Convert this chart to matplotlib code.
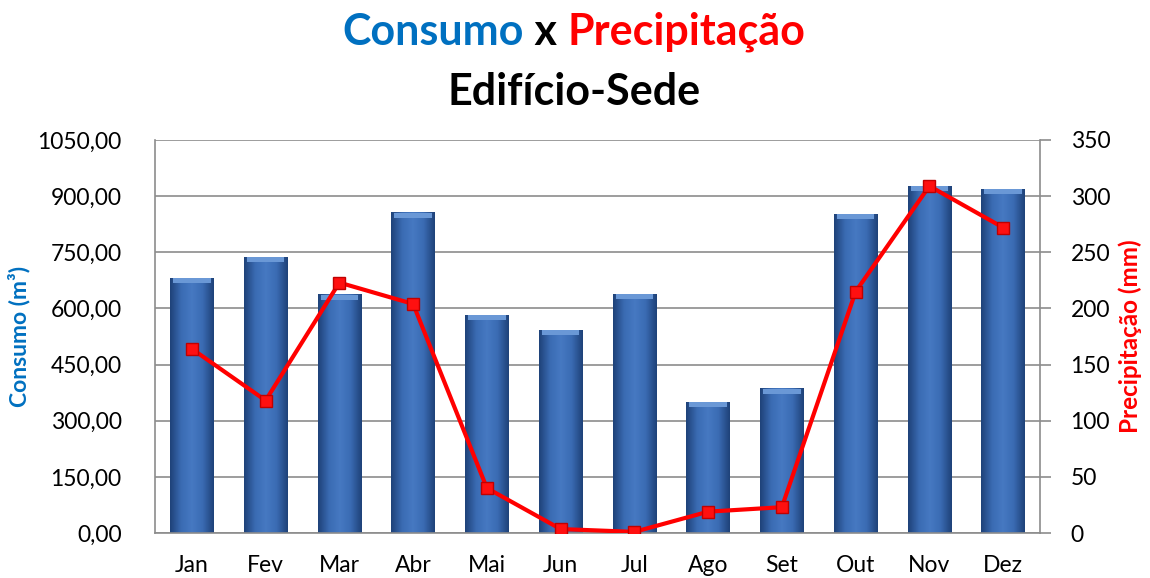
import numpy as np
import matplotlib
matplotlib.use("Agg")
import matplotlib.pyplot as plt
from matplotlib.colors import LinearSegmentedColormap
from matplotlib.ticker import FuncFormatter

meses = ["Jan", "Fev", "Mar", "Abr", "Mai", "Jun", "Jul", "Ago", "Set", "Out", "Nov", "Dez"]
consumo = [681, 737, 636, 855, 582, 542, 638, 350, 385, 852, 927, 919]
precipitacao = [164, 118, 223, 204, 40, 3.5, 1, 19, 23, 215, 309, 272]

plt.rcParams['font.family'] = ['Lato', 'DejaVu Sans']

fig = plt.figure(figsize=(11.5, 5.78), dpi=100)
W, H = 1150, 578
ax = fig.add_axes([155 / W, (H - 533) / H, (1040 - 155) / W, (533 - 140) / H])

x = np.arange(len(meses))
largura = 0.59

# bars drawn invisible, then filled with a horizontal gradient
cmap = LinearSegmentedColormap.from_list("barra", ["#1f4279", "#3a6bb3", "#4679c2", "#3a6bb3", "#1f4279"])
grad = np.linspace(0, 1, 64).reshape(1, -1)
barras = ax.bar(x, consumo, width=largura, color="none", zorder=2)
for b in barras:
    x0, w, h = b.get_x(), b.get_width(), b.get_height()
    ax.imshow(grad, cmap=cmap, aspect="auto", extent=(x0, x0 + w, 0, h), zorder=2, interpolation="bicubic")
    # lighter bevel on top
    ax.fill_between([x0 + 0.04, x0 + w - 0.04], h - 14, h, color="#6a98d6", zorder=3, lw=0)

ax.set_xlim(-0.5, len(meses) - 0.5)
ax.set_ylim(0, 1050)
ax.set_yticks(np.arange(0, 1051, 150))
ax.yaxis.set_major_formatter(FuncFormatter(lambda v, p: f"{v:.2f}".replace(".", ",")))
ax.set_xticks(x)
ax.set_xticklabels(meses)
ax.grid(axis="y", color="#8c8c8c", lw=1.2, zorder=0)
ax.set_axisbelow(True)
ax.tick_params(axis="y", length=0, labelsize=16.5, pad=24)
ax.tick_params(axis="x", length=0, labelsize=16.5, pad=16)
for s in ["left", "right", "bottom"]:
    ax.spines[s].set_color("#8c8c8c")
    ax.spines[s].set_linewidth(1.2)
ax.spines["top"].set_visible(False)

meio = 1 - 336 / H
ax.set_ylabel("Consumo (m³)", color="#0070C0", fontsize=16.5, fontweight="bold")
ax.yaxis.set_label_coords(19 / W, meio, transform=fig.transFigure)
ax.yaxis.label.set_va("center")

ax2 = ax.twinx()
ax2.plot(x, precipitacao, color="#ff0000", lw=3, marker="s", markersize=9,
         markerfacecolor="#ff1010", markeredgecolor="#c00000", markeredgewidth=1, zorder=5)
ax2.set_ylim(0, 350)
ax2.set_yticks(np.arange(0, 351, 50))
ax2.tick_params(axis="y", length=8, width=1.2, color="#8c8c8c", labelsize=16.5, pad=14)
for s in ax2.spines.values():
    s.set_visible(False)
ax2.set_ylabel("Precipitação (mm)", color="#ff0000", fontsize=17.5, fontweight="bold")
ax2.yaxis.set_label_coords(1130 / W, meio, transform=fig.transFigure)
ax2.yaxis.label.set_va("center")

# title in coloured pieces, centred as a whole
partes = [("Consumo", "#0070C0"), (" x ", "black"), ("Precipitação", "#ff0000")]
textos = [fig.text(0, 1 - 32 / H, t, color=c, fontsize=31, fontweight="bold", va="center") for t, c in partes]
fig.canvas.draw()
r = fig.canvas.get_renderer()
larguras = [t.get_window_extent(r).width for t in textos]
pos = 574 - sum(larguras) / 2
for t, w in zip(textos, larguras):
    t.set_x(pos / W)
    pos += w
fig.text(574 / W, 1 - 92 / H, "Edifício-Sede", fontsize=31, fontweight="bold", ha="center", va="center")

fig.savefig("out.png", dpi=100)
